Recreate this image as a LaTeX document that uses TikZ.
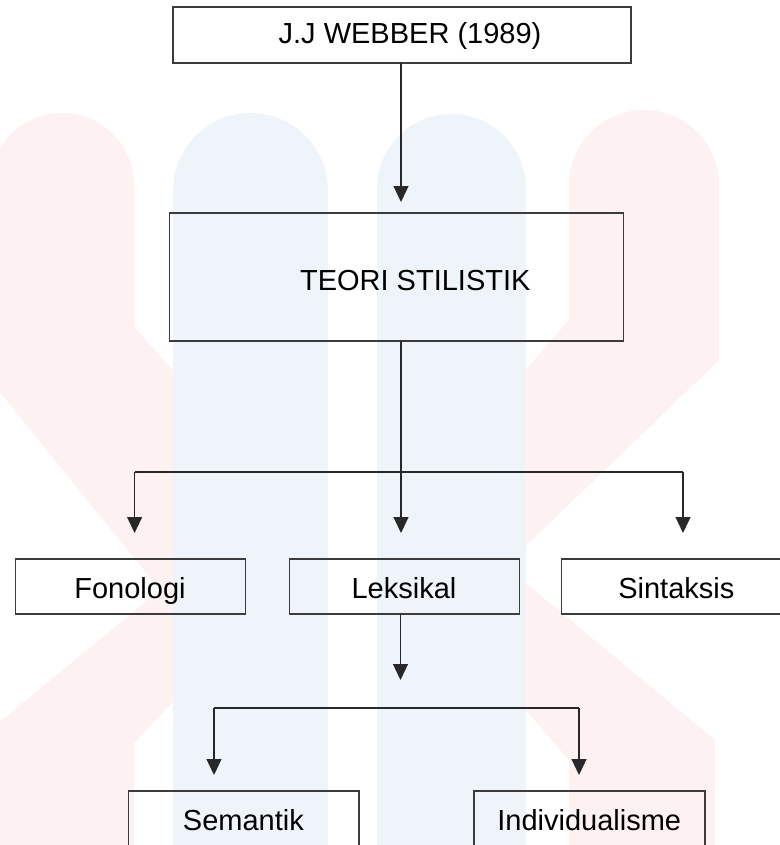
\documentclass[tikz,border=0pt]{standalone}
\usepackage{fontspec}
\setmainfont{Liberation Sans}
\usetikzlibrary{arrows.meta}
\definecolor{wmred}{RGB}{253,241,241}
\definecolor{wmblue}{RGB}{238,244,249}
\definecolor{boxline}{RGB}{60,60,60}
\definecolor{conline}{RGB}{40,40,40}
\begin{document}
\begin{tikzpicture}[x=1pt,y=-1pt,
  box/.style={draw=boxline,line width=1.2pt,rectangle,inner sep=0pt,outer sep=0pt},
  lbl/.style={font=\fontsize{29}{34}\selectfont,inner sep=0pt,anchor=base,text=black},
  ln/.style={draw=conline,line width=1.2pt},
  arr/.style={draw=conline,line width=1.2pt,-{Triangle[width=15pt,length=16pt]}},
  wmb/.style={draw=wmblue,line cap=round}]
\useasboundingbox (0,0) rectangle (779,845);
% watermark
\begin{scope}
\clip (0,0) rectangle (779,845);
\fill[wmred] (-10,900) -- (-10,730) -- (160,590) -- (-10,380) -- (-10,185)
  arc[start angle=180,end angle=360,radius=72] -- (134,327) -- (326,540)
  -- (134,743) -- (134,900) -- cycle;
\fill[wmred] (569,900) -- (569,760) -- (379,540) -- (569,320) -- (569,185)
  arc[start angle=180,end angle=360,radius=75] -- (719,360) -- (505,566)
  -- (715,740) -- (715,900) -- cycle;
\draw[wmb,line width=155pt] (250.5,190.5) -- (250.5,900);
\draw[wmb,line width=149pt] (451.5,188.5) -- (451.5,900);
\end{scope}
% boxes
\node[box,minimum width=458pt,minimum height=56pt] (web) at (402,35) {};
\node[box,minimum width=454pt,minimum height=128pt] (teori) at (396.5,277) {};
\node[box,minimum width=230pt,minimum height=55pt] (fono) at (130.4,586.5) {};
\node[box,minimum width=230.5pt,minimum height=55pt] (leks) at (404.4,586.5) {};
\node[box,minimum width=230pt,minimum height=55pt] (sint) at (676.4,586.5) {};
\node[box,minimum width=230.3pt,minimum height=55pt] (sem) at (243.8,818.5) {};
\node[box,minimum width=231pt,minimum height=55pt] (ind) at (589.5,818.5) {};
% labels
\node[lbl] (tweb) at (410,43.3) {J.J WEBBER (1989)};
\node[lbl] (tteori) at (415.3,290) {TEORI STILISTIK};
\node[lbl] (tfono) at (130,598) {Fonologi};
\node[lbl] (tleks) at (404,598) {Leksikal};
\node[lbl] (tsint) at (676.3,598) {Sintaksis};
\node[lbl] (tsem) at (243.4,830) {Semantik};
\node[lbl] (tind) at (589.2,830) {Individualisme};
% connector points
\coordinate (a1) at (401,202);
\coordinate (j1) at (401,472);
\coordinate (jL) at (134.6,472);
\coordinate (jR) at (683,472);
\coordinate (af) at (134.6,533);
\coordinate (al) at (401,533);
\coordinate (as) at (683,533);
\coordinate (a2) at (400.5,680);
\coordinate (kL) at (214,708);
\coordinate (kR) at (579,708);
\coordinate (asem) at (214,775);
\coordinate (aind) at (579,775);
% connectors
\draw[arr] (web.south -| a1) -- (a1);
\draw[ln] (teori.south -| j1) -- (j1);
\draw[ln] (jL) -- (jR);
\draw[arr] (jL) -- (af);
\draw[arr] (j1) -- (al);
\draw[arr] (jR) -- (as);
\draw[arr] (leks.south -| a2) -- (a2);
\draw[ln] (kL) -- (kR);
\draw[arr] (kL) -- (asem);
\draw[arr] (kR) -- (aind);
\end{tikzpicture}
\end{document}
